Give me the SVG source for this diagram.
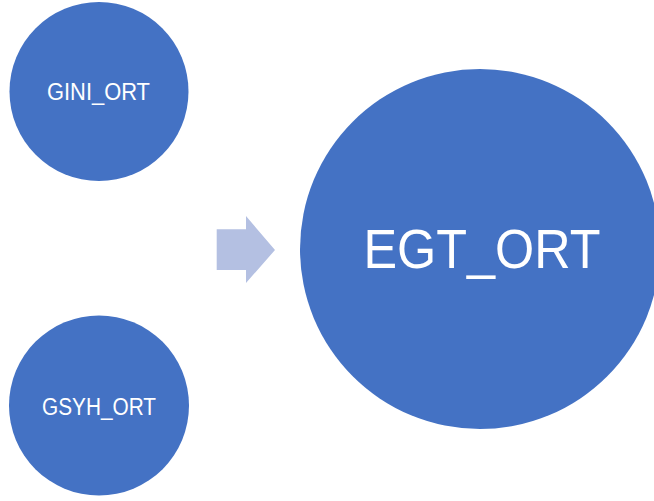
<svg xmlns="http://www.w3.org/2000/svg" width="654" height="501" viewBox="0 0 654 501">
<style>
.node{fill:#4472C4}
.lbl{fill:#FFFFFF;font-family:"Liberation Sans","Open Sans",Arial,sans-serif;text-anchor:middle}
.sm{font-size:23.5px}
.lg{font-size:56px}
.arrow{fill:#B4C0E2}
</style>
<rect width="654" height="501" fill="#FFFFFF"/>
<g id="connectors">
<polygon class="arrow" points="216.7,229.3 246,229.3 246,216 275,250 246,283 246,270 216.7,270"/>
</g>
<g id="gini">
<circle class="node" cx="99" cy="91.5" r="89.5"/>
<text class="lbl sm" x="98.5" y="99.5" textLength="103" lengthAdjust="spacingAndGlyphs">GINI_ORT</text>
</g>
<g id="gsyh">
<circle class="node" cx="99" cy="405.5" r="90"/>
<text class="lbl sm" x="99" y="415" textLength="114" lengthAdjust="spacingAndGlyphs">GSYH_ORT</text>
</g>
<g id="egt">
<circle class="node" cx="480" cy="249" r="180"/>
<text class="lbl lg" x="482" y="267.7" textLength="237" lengthAdjust="spacingAndGlyphs">EGT_ORT</text>
</g>
</svg>
